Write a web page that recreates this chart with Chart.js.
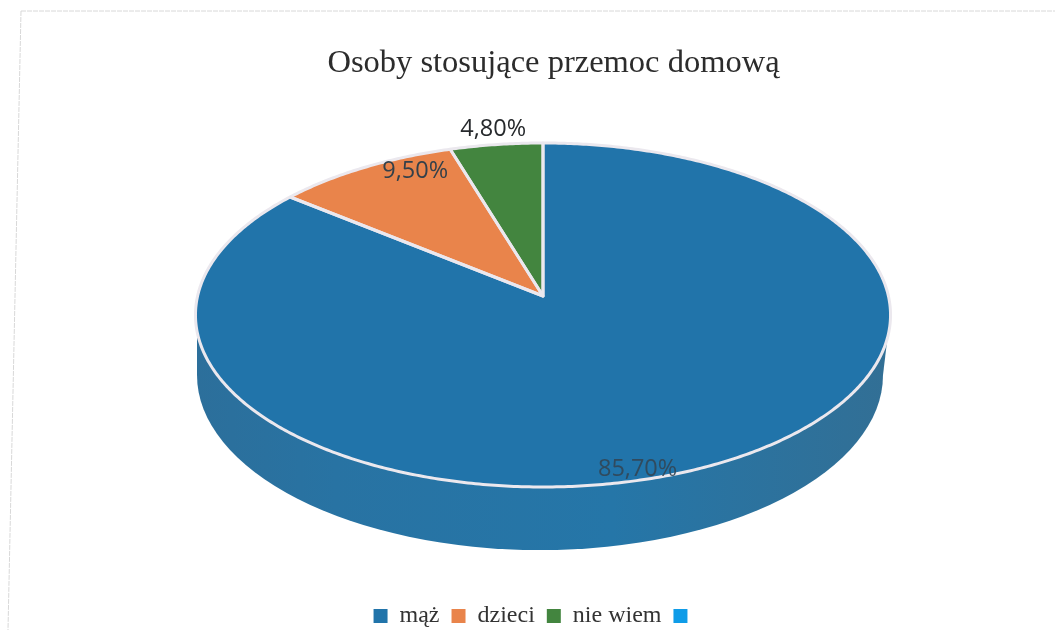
<!DOCTYPE html>
<html><head><meta charset="utf-8">
<style>html,body{margin:0;padding:0;background:#fff}canvas{display:block}</style>
<script src="https://cdn.jsdelivr.net/npm/chart.js@4"></script>
</head><body><canvas id="c" width="1055" height="630"></canvas>
<script>
const categories = ['mąż', 'dzieci', 'nie wiem', ''];
const shares = [85.7, 9.5, 4.8, 0];
const shareLabels = ['85,70%', '9,50%', '4,80%', ''];
const titleText = 'Osoby stosujące przemoc domową';
const sliceColors = ['#2174aa', '#e9844b', '#43853f', '#0f9ce8'];
const labelColors = ['rgba(50,70,85,0.9)', '#33404a', '#26292c', '#000'];
const labelShift = [[-72, 3], [51, 4], [-3, -15], [0, 0]];

// perspective view of the pie disc
const view = {cx: 543, cy: 296, a: 169.9, b: 345.4, k: 0.1104};
const wall = {cx: 540, cy: 375, rx: 343, ry: 175};
function project(angle, f) {
  const u = Math.cos(angle) * f, v = Math.sin(angle) * f, w = 1 - view.k * v;
  return [view.cx + view.b * u / w, view.cy + view.a * v / w];
}
function traceSlice(ctx, el) {
  ctx.beginPath();
  ctx.moveTo(view.cx, view.cy);
  const n = Math.max(2, Math.ceil((el.endAngle - el.startAngle) / 0.01));
  for (let i = 0; i <= n; i++) {
    const t = el.startAngle + (el.endAngle - el.startAngle) * i / n;
    const p = project(t, 1);
    ctx.lineTo(p[0], p[1]);
  }
  ctx.closePath();
}
const scene = {
  id: 'scene',
  afterLayout(chart) {
    const t = chart.titleBlock, l = chart.legend;
    t.left += 26; t.right += 26;
    l.left += 9; l.right += 9;
    const dy = 592 - l.top; l.top += dy; l.bottom += dy;
  },
  beforeDraw(chart) {
    const ctx = chart.ctx;
    ctx.save();
    ctx.strokeStyle = '#d8d8d8';
    ctx.lineWidth = 1;
    ctx.setLineDash([5, 1]);
    ctx.beginPath();
    ctx.moveTo(21, 11); ctx.lineTo(8, 630);
    ctx.moveTo(21, 11); ctx.lineTo(1055, 11);
    ctx.stroke();
    ctx.restore();
  },
  beforeDatasetDraw() { return false; },
  afterDatasetsDraw(chart) {
    const ctx = chart.ctx, arcs = chart.getDatasetMeta(0).data;
    ctx.save();
    const g = ctx.createLinearGradient(197, 0, 888, 0);
    g.addColorStop(0, '#2c6f9b');
    g.addColorStop(0.2, '#2873a3');
    g.addColorStop(0.6, '#2576a8');
    g.addColorStop(1, '#326f95');
    ctx.fillStyle = g;
    ctx.beginPath();
    ctx.ellipse(wall.cx, wall.cy, wall.rx, wall.ry, 0, 0, Math.PI * 2);
    ctx.fill();
    ctx.beginPath();
    ctx.moveTo(197, 325); ctx.lineTo(wall.cx - wall.rx, wall.cy);
    ctx.lineTo(wall.cx + wall.rx, wall.cy); ctx.lineTo(889, 325);
    ctx.closePath();
    ctx.fill();
    arcs.forEach((el, i) => {
      if (!shares[i]) return;
      traceSlice(ctx, el);
      ctx.fillStyle = el.options.backgroundColor;
      ctx.fill();
    });
    ctx.lineJoin = 'round';
    ctx.strokeStyle = '#ebe8ee';
    ctx.lineWidth = 3;
    arcs.forEach((el, i) => {
      if (!shares[i]) return;
      traceSlice(ctx, el);
      ctx.stroke();
    });
    ctx.font = "23.5px 'Open Sans'";
    ctx.textAlign = 'center';
    ctx.textBaseline = 'middle';
    arcs.forEach((el, i) => {
      if (!shares[i]) return;
      const p = project((el.startAngle + el.endAngle) / 2, 1);
      ctx.fillStyle = labelColors[i];
      ctx.fillText(shareLabels[i], p[0] + labelShift[i][0], p[1] + labelShift[i][1]);
    });
    ctx.restore();
  }
};
new Chart(document.getElementById('c'), {
  type: 'pie',
  data: {labels: categories, datasets: [{data: shares, backgroundColor: sliceColors, borderWidth: 0}]},
  plugins: [scene],
  options: {
    responsive: false,
    animation: false,
    devicePixelRatio: 1,
    layout: {padding: 0},
    plugins: {
      tooltip: {enabled: false},
      title: {display: true, text: titleText, color: '#2c2c2c',
        font: {family: "'Liberation Serif'", size: 32.5, weight: 'normal'},
        padding: {top: 44, bottom: 20}},
      legend: {display: true, position: 'bottom',
        labels: {color: '#333', boxWidth: 14, boxHeight: 14, padding: 12,
          font: {family: "'Liberation Serif'", size: 24}}}
    }
  }
});
</script></body></html>
